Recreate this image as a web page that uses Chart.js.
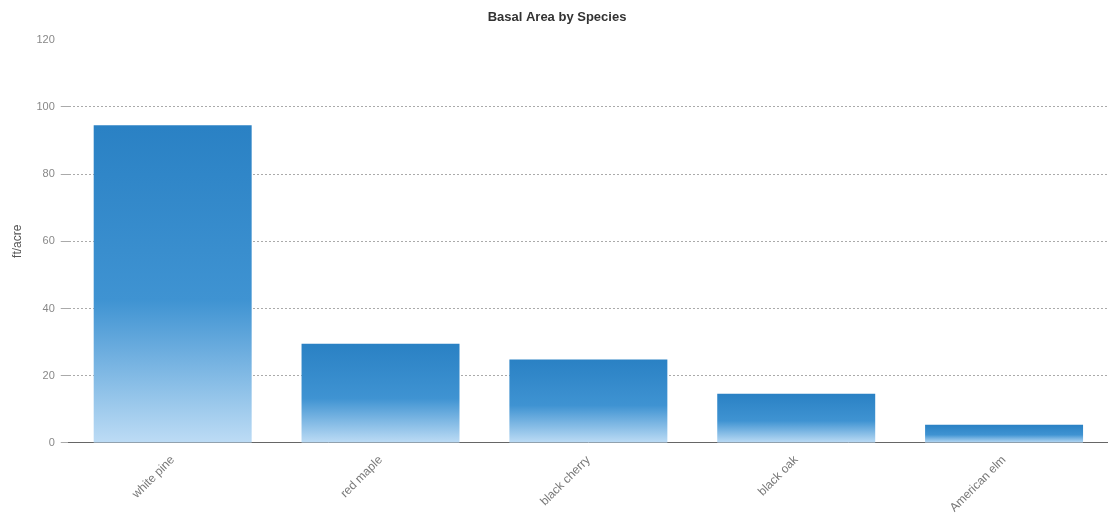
<!DOCTYPE html>
<html>
<head>
<meta charset="utf-8">
<script src="https://cdn.jsdelivr.net/npm/chart.js@4.4.0/dist/chart.umd.min.js"></script>
<style>
  html, body { margin: 0; padding: 0; background: #fff; }
  #wrap { width: 1108px; height: 519px; }
</style>
</head>
<body>
<div id="wrap"><canvas id="grafico"></canvas></div>
<script>
// datos
const especies = ['white pine', 'red maple', 'black cherry', 'black oak', 'American elm'];
const areaBasal = [94.5, 29.5, 24.8, 14.6, 5.4];
const tituloGrafico = 'Basal Area by Species';
const tituloEjeY = 'ft/acre';

function degradado(ctx) {
  const chart = ctx.chart;
  const area = chart.chartArea;
  if (!area || ctx.dataIndex === undefined) return '#2f86c8';
  const y = chart.scales.y;
  const top = y.getPixelForValue(areaBasal[ctx.dataIndex]);
  const base = y.getPixelForValue(0);
  const g = chart.ctx.createLinearGradient(0, top, 0, base);
  g.addColorStop(0, '#2a81c4');
  g.addColorStop(0.55, '#3f93d2');
  g.addColorStop(1, '#bddcf5');
  return g;
}

new Chart(document.getElementById('grafico'), {
  type: 'bar',
  data: {
    labels: especies,
    datasets: [{
      label: tituloEjeY,
      data: areaBasal,
      backgroundColor: degradado,
      borderWidth: 0,
      barPercentage: 0.76,
      categoryPercentage: 1
    }]
  },
  options: {
    responsive: true,
    maintainAspectRatio: false,
    animation: false,
    layout: { padding: { top: 4, right: 0, left: 6, bottom: 2 } },
    plugins: {
      legend: { display: false },
      tooltip: { enabled: false },
      title: {
        display: true,
        text: tituloGrafico,
        color: '#333',
        font: { family: 'Liberation Sans', size: 13, weight: 'bold' },
        padding: { top: 6, bottom: 14 }
      }
    },
    scales: {
      x: {
        grid: { display: false },
        border: { color: '#666', width: 1 },
        ticks: {
          color: '#777',
          font: { family: 'Liberation Sans', size: 12 },
          maxRotation: 45,
          minRotation: 45,
          padding: 2
        }
      },
      y: {
        min: 0,
        max: 120,
        border: { display: false, dash: [2, 2] },
        grid: {
          color: (c) => (c.tick && c.tick.value === 120 ? 'rgba(0,0,0,0)' : '#aaa'),
          drawTicks: true,
          tickLength: 8
        },
        ticks: {
          stepSize: 20,
          color: '#888',
          font: { family: 'Liberation Sans', size: 11 },
          padding: 6
        },
        title: {
          display: true,
          text: tituloEjeY,
          color: '#555',
          font: { family: 'Liberation Sans', size: 12 },
          padding: { bottom: 6 }
        }
      }
    }
  }
});
</script>
</body>
</html>
